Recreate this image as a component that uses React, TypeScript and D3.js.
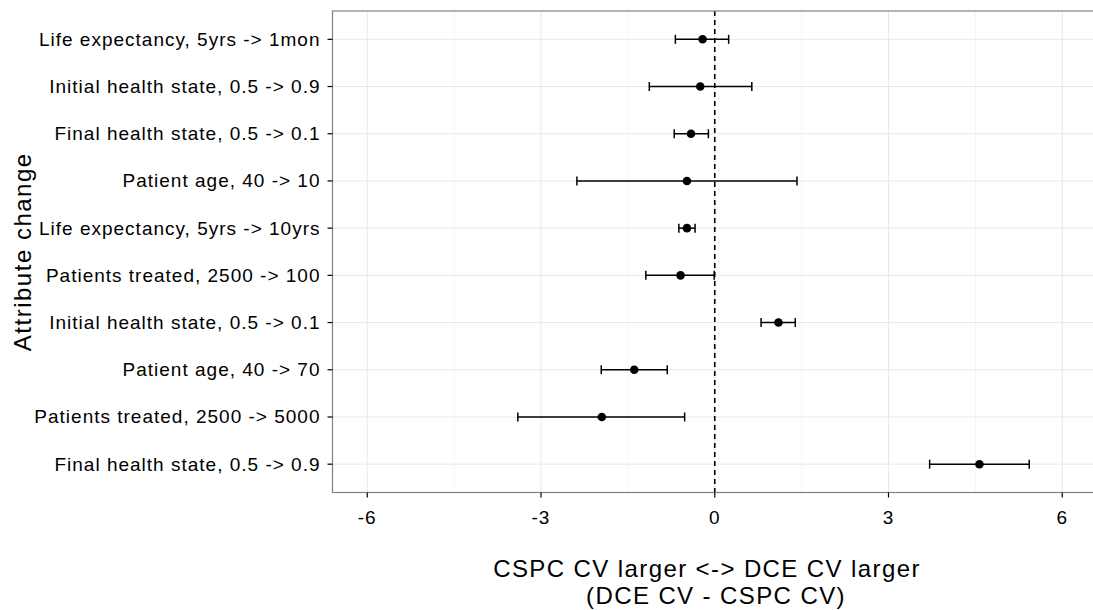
import React from "react";
import * as d3 from "d3";

const categories = [
  "Life expectancy, 5yrs -> 1mon",
  "Initial health state, 0.5 -> 0.9",
  "Final health state, 0.5 -> 0.1",
  "Patient age, 40 -> 10",
  "Life expectancy, 5yrs -> 10yrs",
  "Patients treated, 2500 -> 100",
  "Initial health state, 0.5 -> 0.1",
  "Patient age, 40 -> 70",
  "Patients treated, 2500 -> 5000",
  "Final health state, 0.5 -> 0.9",
];
const estimates = [-0.21, -0.25, -0.41, -0.48, -0.48, -0.59, 1.1, -1.39, -1.95, 4.57];
const lowers = [-0.68, -1.13, -0.7, -2.38, -0.62, -1.19, 0.8, -1.96, -3.4, 3.71];
const uppers = [0.24, 0.64, -0.11, 1.42, -0.34, -0.01, 1.39, -0.82, -0.52, 5.43];
const xTicks = [-6, -3, 0, 3, 6];
const xMinor = [-4.5, -1.5, 1.5, 4.5];

export default function App() {
  const W = 1093, H = 610;
  const left = 332.5, right = 1097, top = 11, bottom = 492.5;
  const x = d3.scaleLinear().domain([-6.6, 6.6]).range([left, right]);
  const y = d3.scalePoint<string>().domain(categories).range([top, bottom]).padding(0.6);
  const font = "'Liberation Sans', Arial, sans-serif";

  return (
    <svg width={W} height={H} style={{ position: "absolute", left: 0, top: 0, background: "#fff" }}>
      <rect x={0} y={0} width={W} height={H} fill="#fff" />
      <g>
        {xMinor.map((t) => (
          <line key={"mn" + t} x1={x(t)} x2={x(t)} y1={top} y2={bottom} stroke="#f4f4f4" strokeWidth={1} />
        ))}
        {xTicks.map((t) => (
          <line key={"mj" + t} x1={x(t)} x2={x(t)} y1={top} y2={bottom} stroke="#e8e8e8" strokeWidth={1} />
        ))}
        {categories.map((c) => (
          <line key={"hy" + c} x1={left} x2={right} y1={y(c)} y2={y(c)} stroke="#e8e8e8" strokeWidth={1} />
        ))}
      </g>
      <line x1={x(0)} x2={x(0)} y1={top} y2={bottom} stroke="#000" strokeWidth={1.6} strokeDasharray="5,4" />
      {categories.map((c, i) => {
        const cy = y(c) as number;
        return (
          <g key={"e" + i}>
            <line x1={x(lowers[i])} x2={x(uppers[i])} y1={cy} y2={cy} stroke="#000" strokeWidth={1.5} />
            <line x1={x(lowers[i])} x2={x(lowers[i])} y1={cy - 4.5} y2={cy + 4.5} stroke="#000" strokeWidth={1.5} />
            <line x1={x(uppers[i])} x2={x(uppers[i])} y1={cy - 4.5} y2={cy + 4.5} stroke="#000" strokeWidth={1.5} />
            <circle cx={x(estimates[i])} cy={cy} r={4.3} fill="#000" />
          </g>
        );
      })}
      <rect x={left} y={top} width={right - left} height={bottom - top} fill="none" stroke="#808080" strokeWidth={1.2} />
      {categories.map((c) => (
        <g key={"yt" + c}>
          <line x1={left - 5} x2={left} y1={y(c)} y2={y(c)} stroke="#000" strokeWidth={1.2} />
          <text x={left - 12} y={(y(c) as number) + 6.5} textAnchor="end" fontFamily={font} fontSize={19} letterSpacing={1} fill="#000">
            {c}
          </text>
        </g>
      ))}
      {xTicks.map((t) => (
        <g key={"xt" + t}>
          <line x1={x(t)} x2={x(t)} y1={bottom} y2={bottom + 5} stroke="#000" strokeWidth={1.2} />
          <text x={x(t)} y={bottom + 31} textAnchor="middle" fontFamily={font} fontSize={19} letterSpacing={1} fill="#000">
            {t}
          </text>
        </g>
      ))}
      <text x={707} y={577} textAnchor="middle" fontFamily={font} fontSize={24} letterSpacing={1.4} fill="#000">
        {"CSPC CV larger <-> DCE CV larger"}
      </text>
      <text x={716} y={604} textAnchor="middle" fontFamily={font} fontSize={24} letterSpacing={1.4} fill="#000">
        {"(DCE CV - CSPC CV)"}
      </text>
      <text
        transform={`translate(31, ${(top + bottom) / 2}) rotate(-90)`}
        textAnchor="middle"
        fontFamily={font}
        fontSize={24}
        letterSpacing={1.5}
        fill="#000"
      >
        Attribute change
      </text>
    </svg>
  );
}
